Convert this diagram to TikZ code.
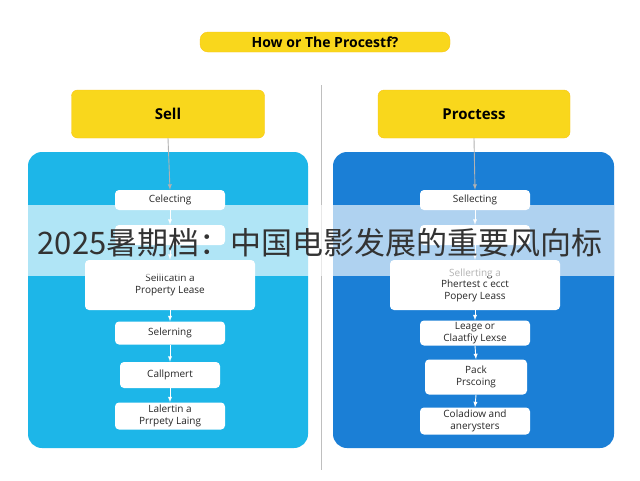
\documentclass[tikz,border=0pt]{standalone}
\usepackage{fontspec}
\setmainfont{Open Sans}
\newfontfamily\cjk{Noto Sans CJK SC}
\definecolor{lp}{HTML}{1DB6E8}
\definecolor{rp}{HTML}{1B7FD6}
\definecolor{yl}{HTML}{F9D71C}
\begin{document}
\begin{tikzpicture}[x=1pt,y=-1pt,
 hdr/.style={fill=yl,draw=yl!80!orange,rounded corners=6pt,font=\bfseries\fontsize{15}{17}\selectfont},
 panel/.style={rounded corners=14pt,draw=none},
 box/.style={fill=white,rounded corners=4pt,align=center,font=\fontsize{10}{11.5}\selectfont,text=black!85,inner sep=0pt},
 arr/.style={draw=white,line width=0.9pt,-{latex}}]
\useasboundingbox (0,0) rectangle (640,480);
\fill[white] (0,0) rectangle (640,480);
\node[hdr,minimum width=250pt,minimum height=20pt,rounded corners=8pt,font=\bfseries\fontsize{14}{16}\selectfont] (title) at (325,42) {How or The Procestf?};
\draw[gray!50,line width=1pt] (321,85) -- (321,470);
\node[hdr,minimum width=193pt,minimum height=48pt] (h1) at (168,114) {Sell};
\node[hdr,minimum width=192pt,minimum height=48pt] (h2) at (474,114) {Proctess};
\fill[panel,fill=lp] (28,152) rectangle (308,448);
\fill[panel,fill=rp] (333,152) rectangle (614,448);
% left
\node[box,minimum width=110pt,minimum height=20pt] (l1) at (170,200) {Celecting};
\node[box,minimum width=110pt,minimum height=20pt] (l2) at (170,235) {};
\node[box,minimum width=170pt,minimum height=50pt] (l3) at (170,285) {Sellicatin a\\Property Lease};
\node[box,minimum width=110pt,minimum height=23pt] (l4) at (170,333) {Selerning};
\node[box,minimum width=100pt,minimum height=26pt] (l5) at (170,375) {Callpmert};
\node[box,minimum width=110pt,minimum height=27pt] (l6) at (170,416) {Lalertin a\\Prrpety Laing};
% right
\node[box,minimum width=110pt,minimum height=20pt] (r1) at (475,200) {Sellecting};
\node[box,minimum width=110pt,minimum height=20pt] (r2) at (475,235) {};
\node[box,minimum width=170pt,minimum height=50pt] (r3) at (475,285) {Sellerting a\\Phertest c ecct\\Popery Lеass};
\node[box,minimum width=110pt,minimum height=25pt] (r4) at (475,333) {Leage or\\Claatfiy Lexse};
\node[box,minimum width=102pt,minimum height=35pt] (r5) at (476,377) {Pack\\Prscoing};
\node[box,minimum width=110pt,minimum height=27pt] (r6) at (475,421) {Coladiow and\\anerysters};
\foreach \a/\b in {l1/l2,l2/l3,l3/l4,l4/l5,l5/l6,r1/r2,r2/r3,r3/r4,r4/r5,r5/r6}
  \draw[arr] (\a.south) -- (\b.north);
\draw[arr,draw=gray!60] (h1.south) -- (l1.north);
\draw[arr,draw=gray!60] (h2.south) -- (r1.north);
% banner
\fill[white,opacity=0.65] (28,205) rectangle (614,276);
\node[font=\cjk\fontsize{31}{33}\selectfont,text=black!80,inner sep=0pt] (ban) at (320,243) {2025暑期档：中国电影发展的重要风向标};
\end{tikzpicture}
\end{document}
